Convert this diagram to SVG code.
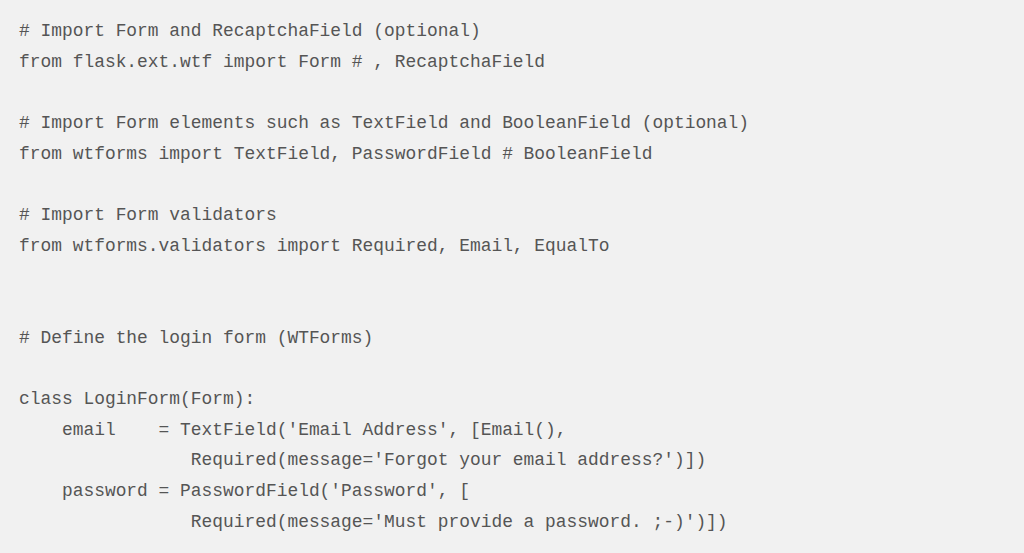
<svg xmlns="http://www.w3.org/2000/svg" width="1024" height="553" viewBox="0 0 1024 553">
<style>text{font-family:"Liberation Mono","DejaVu Sans Mono",monospace;font-size:17.9px;fill:#555;white-space:pre}</style>
<rect width="1024" height="553" fill="#f1f1f1"/>
<g xml:space="preserve">
<text x="19" y="36"># Import Form and RecaptchaField (optional)</text>
<text x="19" y="66.7">from flask.ext.wtf import Form # , RecaptchaField</text>
<text x="19" y="128"># Import Form elements such as TextField and BooleanField (optional)</text>
<text x="19" y="158.7">from wtforms import TextField, PasswordField # BooleanField</text>
<text x="19" y="220"># Import Form validators</text>
<text x="19" y="250.7">from wtforms.validators import Required, Email, EqualTo</text>
<text x="19" y="342.7"># Define the login form (WTForms)</text>
<text x="19" y="404">class LoginForm(Form):</text>
<text x="19" y="434.7">    email    = TextField('Email Address', [Email(),</text>
<text x="19" y="465.4">                Required(message='Forgot your email address?')])</text>
<text x="19" y="496">    password = PasswordField('Password', [</text>
<text x="19" y="526.7">                Required(message='Must provide a password. ;-)')])</text>
</g>
</svg>
